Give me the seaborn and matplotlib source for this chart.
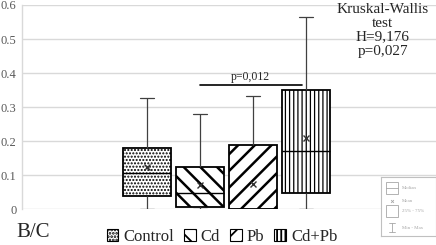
import matplotlib
matplotlib.use("Agg")
import matplotlib.pyplot as plt
from matplotlib.patches import Patch, Rectangle
import seaborn as sns
import pandas as pd

# Werte (B/C, vier Gruppen)
groups = ["Control", "Cd", "Pb", "Cd+Pb"]
mins = [0.0, 0.0, 0.0, 0.0]
q1 = [0.039, 0.008, 0.0, 0.049]
medians = [0.106, 0.049, 0.0, 0.171]
q3 = [0.181, 0.123, 0.188, 0.349]
maxs = [0.328, 0.280, 0.333, 0.566]
means = [0.123, 0.071, 0.074, 0.210]
yticks = [0, 0.1, 0.2, 0.3, 0.4, 0.5, 0.6]
ytick_labels = ["0", "0.1", "0.2", "0.3", "0.4", "0.5", "0.6"]
hatches = [".....", "\\\\", "//", "||||"]
hatch_lw = [1.0, 1.8, 1.8, 0.9]

# 5 Punkte je Gruppe -> Quartile liegen exakt auf q1/median/q3
rows = []
for g, a, b, c, d, e in zip(groups, mins, q1, medians, q3, maxs):
    for v in (a, b, c, d, e):
        rows.append({"group": g, "value": v})
df = pd.DataFrame(rows)
df_mean = pd.DataFrame({"group": groups, "mean": means})

sns.set_theme(style="white")
plt.rcParams["font.family"] = ["Liberation Serif", "DejaVu Serif"]
plt.rcParams["hatch.linewidth"] = 1.3

fig = plt.figure(figsize=(4.36, 2.45), dpi=100)
ax = fig.add_axes([22 / 436, 35.7 / 245, 1 - 22 / 436, 204.3 / 245])

sns.boxplot(
    data=df, x="group", y="value", order=groups, whis=(0, 100),
    width=0.89, color="white", linecolor="black", linewidth=1.3,
    whiskerprops={"color": "#404040", "linewidth": 0.9},
    capprops={"color": "#404040", "linewidth": 0.9},
    medianprops={"color": "black", "linewidth": 1.0},
    capwidths=0.25, ax=ax,
)
for patch, h, lw in zip(ax.patches, hatches, hatch_lw):
    patch.set_facecolor("white")
    patch.set_hatch(h)
    if hasattr(patch, "set_hatch_linewidth"):
        patch.set_hatch_linewidth(lw)

sns.pointplot(
    data=df_mean, x="group", y="mean", order=groups, linestyle="none",
    marker="x", color="#333333", markersize=4.5, markeredgewidth=1.0,
    errorbar=None, ax=ax,
)

ax.set_xlim(-2.358, 5.453)
ax.set_ylim(0, 0.6)
ax.set_xticks([])
ax.set_yticks(yticks)
ax.set_yticklabels(ytick_labels, fontsize=9, color="#595959")
ax.tick_params(axis="y", length=0, pad=4)
ax.set_xlabel("")
ax.set_ylabel("")
ax.yaxis.grid(True, color="#d9d9d9", linewidth=1)
ax.set_axisbelow(True)
for side in ["top", "right", "bottom"]:
    ax.spines[side].set_visible(False)
ax.spines["left"].set_color("#d9d9d9")
ax.spines["left"].set_linewidth(1)

# Signifikanz Cd vs Cd+Pb
ax.plot([1.0, 2.92], [0.364, 0.364], color="black", linewidth=1.2)
ax.text(1.95, 0.372, "p=0,012", ha="center", va="bottom", fontsize=8.5)

ax.text(4.45, 0.607, "Kruskal-Wallis\ntest\nH=9,176\np=0,027",
        ha="center", va="top", fontsize=11, linespacing=1.1)

fig.text(16 / 436, 13 / 245, "B/C", ha="left", va="center", fontsize=15)

handles = []
for h, lw in zip(hatches, hatch_lw):
    p = Patch(facecolor="white", edgecolor="black", hatch=h, linewidth=0.8)
    handles.append(p)
fig.legend(handles, groups, loc="center", bbox_to_anchor=(222 / 436, 8 / 245),
           ncol=4, frameon=False, fontsize=12, handlelength=0.7, handleheight=0.7,
           handletextpad=0.3, columnspacing=0.6, borderaxespad=0)

# kleine Erklaerungsbox unten rechts
lax = fig.add_axes([381 / 436, 9 / 245, 55 / 436, 59 / 245])
lax.set_xlim(0, 1)
lax.set_ylim(0, 1)
lax.set_xticks([])
lax.set_yticks([])
lax.set_facecolor("white")
for s in lax.spines.values():
    s.set_color("#c0c0c0")
    s.set_linewidth(0.8)
grey = "#a6a6a6"
lax.add_patch(Rectangle((0.09, 0.72), 0.22, 0.2, fill=False, edgecolor=grey, lw=0.6))
lax.plot([0.09, 0.31], [0.82, 0.82], color=grey, lw=0.6)
lax.plot([0.2], [0.59], marker="x", color=grey, markersize=2, mew=0.6)
lax.add_patch(Rectangle((0.09, 0.32), 0.22, 0.2, fill=False, edgecolor=grey, lw=0.6))
lax.plot([0.2, 0.2], [0.06, 0.22], color=grey, lw=0.6)
lax.plot([0.14, 0.26], [0.22, 0.22], color=grey, lw=0.6)
lax.plot([0.14, 0.26], [0.06, 0.06], color=grey, lw=0.6)
for yy, t in zip([0.82, 0.59, 0.42, 0.14], ["Median", "Mean", "25% - 75%", "Min - Max"]):
    lax.text(0.38, yy, t, fontsize=3.5, color=grey, va="center", ha="left")

fig.savefig("out.png", dpi=100)
